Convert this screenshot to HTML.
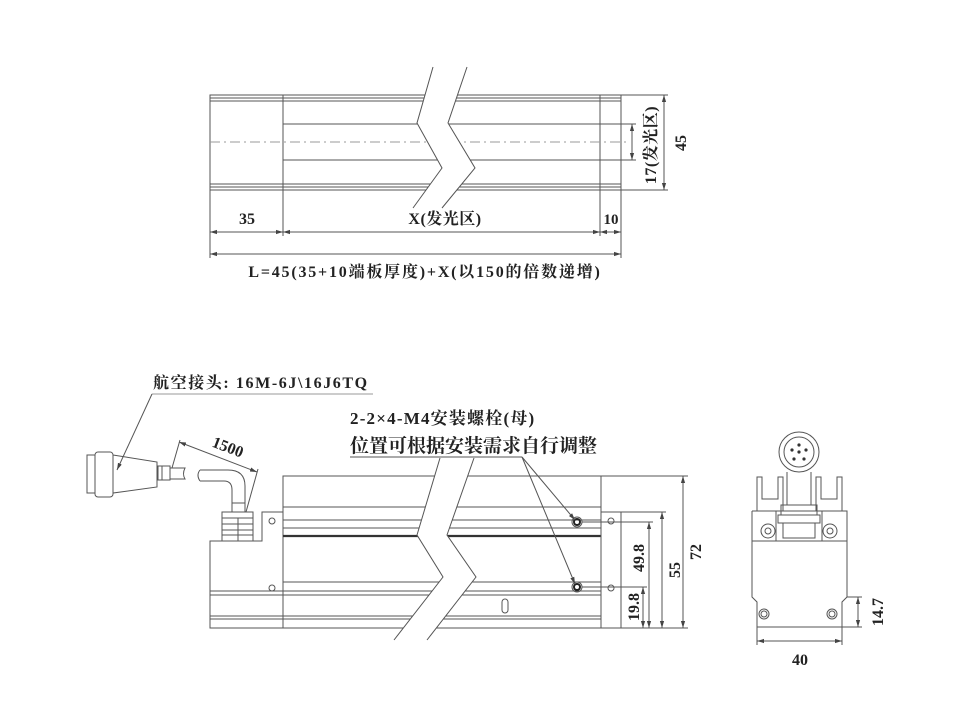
<!DOCTYPE html>
<html><head><meta charset="utf-8"><style>
html,body{margin:0;padding:0;background:#fff;}
svg{display:block;}
text{font-family:"Liberation Serif","Noto Serif CJK SC","Noto Sans CJK SC",serif;font-weight:bold;fill:#222;}
.d{marker-start:url(#a);marker-end:url(#a);}
</style></head><body>
<svg width="973" height="707" viewBox="0 0 973 707" xmlns="http://www.w3.org/2000/svg">
<defs>
<marker id="a" viewBox="0 0 10 10" refX="10" refY="5" markerWidth="7" markerHeight="7" orient="auto-start-reverse" markerUnits="userSpaceOnUse"><path d="M0,2 L10,5 L0,8 z" fill="#444"/></marker>
</defs>
<g stroke="#555" stroke-width="1" fill="none">
<!-- TOP VIEW -->
<rect x="210" y="95" width="411" height="95"/>
<line x1="210" y1="98" x2="621" y2="98"/><line x1="210" y1="101" x2="621" y2="101"/>
<line x1="210" y1="184" x2="621" y2="184"/><line x1="210" y1="187" x2="621" y2="187"/>
<line x1="283" y1="95" x2="283" y2="190"/><line x1="600" y1="95" x2="600" y2="190"/>
<line x1="283" y1="124" x2="600" y2="124"/><line x1="283" y1="160" x2="600" y2="160"/>
<line x1="210" y1="142" x2="628" y2="142" stroke-dasharray="10,4,2,4" stroke="#999"/>
<polygon points="433,67 417,123 442,168 413,208 442,208 475,168 448,123 467,67" fill="#fff" stroke="none"/>
<polyline points="433,67 417,123 442,168 413,208"/>
<polyline points="467,67 448,123 475,168 442,208"/>
<!-- top dims -->
<line x1="600" y1="124" x2="636" y2="124"/><line x1="600" y1="160" x2="636" y2="160"/>
<line class="d" x1="632" y1="124" x2="632" y2="160"/>
<line x1="621" y1="95" x2="668" y2="95"/><line x1="621" y1="190" x2="668" y2="190"/>
<line class="d" x1="664" y1="95" x2="664" y2="190"/>
<line x1="210" y1="190" x2="210" y2="258"/><line x1="283" y1="190" x2="283" y2="236"/>
<line x1="600" y1="190" x2="600" y2="236"/><line x1="621" y1="190" x2="621" y2="258"/>
<line class="d" x1="210" y1="232" x2="283" y2="232"/>
<line class="d" x1="283" y1="232" x2="600" y2="232"/>
<line class="d" x1="600" y1="232" x2="621" y2="232"/>
<line class="d" x1="210" y1="254" x2="621" y2="254"/>
</g>
<text x="247" y="224" font-size="16" text-anchor="middle">35</text>
<text x="445" y="224" font-size="16" text-anchor="middle" letter-spacing="0.5">X(发光区)</text>
<text x="611" y="224" font-size="15" text-anchor="middle">10</text>
<text x="425" y="277" font-size="16" text-anchor="middle" letter-spacing="1.8">L=45(35+10端板厚度)+X(以150的倍数递增)</text>
<text transform="translate(656,145) rotate(-90)" font-size="16" text-anchor="middle" letter-spacing="0.5">17(发光区)</text>
<text transform="translate(686,143) rotate(-90)" font-size="16" text-anchor="middle">45</text>

<!-- BOTTOM SIDE VIEW -->
<g stroke="#555" stroke-width="1" fill="none">
<rect x="283" y="476" width="318" height="152"/>
<line x1="283" y1="507" x2="601" y2="507"/><line x1="283" y1="520" x2="601" y2="520"/>
<line x1="283" y1="528" x2="601" y2="528"/>
<line x1="283" y1="536" x2="601" y2="536" stroke-width="2.2" stroke="#333"/>
<line x1="210" y1="591" x2="601" y2="591"/><line x1="283" y1="582" x2="601" y2="582"/>
<line x1="210" y1="595" x2="601" y2="595"/>
<line x1="210" y1="616" x2="601" y2="616"/><line x1="210" y1="619" x2="601" y2="619"/>
<polyline points="283,512 262,512 262,541 210,541 210,628 283,628"/>
<rect x="601" y="512" width="20" height="116"/>
<circle cx="272" cy="521" r="3"/><circle cx="272" cy="588" r="3"/>
<circle cx="611" cy="521" r="3"/><circle cx="611" cy="588" r="3"/>
<circle cx="577" cy="522" r="5"/><circle cx="577" cy="522" r="3" stroke="#222" stroke-width="2"/>
<circle cx="577" cy="587" r="5"/><circle cx="577" cy="587" r="3" stroke="#222" stroke-width="2"/>
<rect x="502" y="599" width="6" height="14" rx="3"/>
<polygon points="440,458 417,535 443,577 394,640 427,640 476,577 447,535 474,458" fill="#fff" stroke="none"/>
<polyline points="440,458 417,535 443,577 394,640"/>
<polyline points="474,458 447,535 476,577 427,640"/>
<!-- right dims -->
<line x1="601" y1="476" x2="688" y2="476"/><line x1="621" y1="512" x2="666" y2="512"/>
<line x1="582" y1="522" x2="653" y2="522"/><line x1="582" y1="587" x2="647" y2="587"/>
<line x1="621" y1="628" x2="688" y2="628"/>
<line class="d" x1="683" y1="476" x2="683" y2="628"/><line class="d" x1="662" y1="512" x2="662" y2="628"/>
<line class="d" x1="649" y1="522" x2="649" y2="628"/><line class="d" x1="643" y1="587" x2="643" y2="628"/>
<!-- gland -->
<rect x="222" y="512" width="31" height="29" fill="#fff"/>
<line x1="222" y1="518" x2="253" y2="518"/><line x1="222" y1="524" x2="253" y2="524"/>
<line x1="222" y1="530" x2="253" y2="530"/><line x1="222" y1="535" x2="253" y2="535"/>
<line x1="238" y1="518" x2="238" y2="541"/>
<!-- cable elbow -->
<path d="M200,470 L228,470 Q245,470 245,486 L245,512 M200,481 L224,481 Q232,481 232,490 L232,512"/>
<path d="M200,470 Q196,475 200,481"/>
<line x1="232" y1="503" x2="245" y2="503"/>
<!-- connector -->
<rect x="87" y="455" width="8" height="38"/>
<rect x="95" y="452" width="18" height="45" rx="3"/>
<polygon points="113,455 157,462 157,487 113,493"/>
<rect x="158" y="466" width="12" height="14"/>
<line x1="162" y1="466" x2="162" y2="480"/>
<path d="M170,468 L185,468 Q182,474 185,479 L170,479"/>
<!-- 1500 dim -->
<line class="d" x1="179" y1="442" x2="257" y2="472"/>
<line x1="172" y1="468" x2="180" y2="440"/>
<line x1="246" y1="512" x2="258" y2="469"/>
<!-- leaders -->
<line x1="152" y1="394" x2="373" y2="394" stroke="#999"/>
<line x1="152" y1="394" x2="117" y2="470" style="marker-end:url(#a)"/>
<line x1="350" y1="457" x2="522" y2="457"/>
<line x1="522" y1="457" x2="575" y2="520" style="marker-end:url(#a)"/>
<line x1="522" y1="457" x2="575" y2="584" style="marker-end:url(#a)"/>
<!-- END VIEW -->
<circle cx="799" cy="452" r="20"/><circle cx="799" cy="452" r="15"/>
<polyline points="757,511 757,477 762,477 762,499 778,499 778,477 783,477 783,511"/>
<polyline points="842,511 842,477 837,477 837,499 821,499 821,477 816,477 816,511"/>
<line x1="787" y1="472" x2="787" y2="505"/><line x1="811" y1="472" x2="811" y2="505"/>
<rect x="781" y="505" width="36" height="10"/>
<rect x="778" y="515" width="42" height="8"/>
<rect x="783" y="523" width="32" height="15"/>
<polyline points="752,511 847,511 847,597 842,602 842,627 757,627 757,602 752,597 752,511"/>
<line x1="752" y1="541" x2="847" y2="541"/>
<line x1="776" y1="511" x2="776" y2="541"/><line x1="822" y1="511" x2="822" y2="541"/>
<rect x="761" y="524" width="14" height="14" rx="7"/><circle cx="768" cy="531" r="3"/>
<rect x="823" y="524" width="14" height="14" rx="7"/><circle cx="830" cy="531" r="3"/>
<circle cx="764" cy="614" r="5"/><circle cx="764" cy="614" r="3"/>
<circle cx="832" cy="614" r="5"/><circle cx="832" cy="614" r="3"/>
<line x1="757" y1="627" x2="757" y2="645"/><line x1="842" y1="627" x2="842" y2="645"/>
<line class="d" x1="757" y1="641" x2="842" y2="641"/>
<line x1="847" y1="597" x2="862" y2="597"/><line x1="842" y1="627" x2="862" y2="627"/>
<line class="d" x1="858" y1="597" x2="858" y2="627"/>
</g>
<g fill="#333">
<circle cx="799" cy="445" r="1.6"/><circle cx="792" cy="450" r="1.6"/><circle cx="806" cy="450" r="1.6"/>
<circle cx="799" cy="452" r="1.6"/><circle cx="794" cy="459" r="1.6"/><circle cx="804" cy="459" r="1.6"/>
</g>
<text x="153" y="388" font-size="16" letter-spacing="1.6">航空接头: 16M-6J\16J6TQ</text>
<text x="350" y="424" font-size="17" letter-spacing="1.2">2-2×4-M4安装螺栓(母)</text>
<text x="350" y="452" font-size="19">位置可根据安装需求自行调整</text>
<text transform="translate(226,452) rotate(21)" font-size="16" text-anchor="middle">1500</text>
<text transform="translate(701,552) rotate(-90)" font-size="16" text-anchor="middle">72</text>
<text transform="translate(680,570) rotate(-90)" font-size="16" text-anchor="middle">55</text>
<text transform="translate(644,558) rotate(-90)" font-size="16" text-anchor="middle">49.8</text>
<text transform="translate(639,607) rotate(-90)" font-size="16" text-anchor="middle">19.8</text>
<text x="800" y="665" font-size="16" text-anchor="middle">40</text>
<text transform="translate(883,612) rotate(-90)" font-size="16" text-anchor="middle">14.7</text>
</svg>
</body></html>
